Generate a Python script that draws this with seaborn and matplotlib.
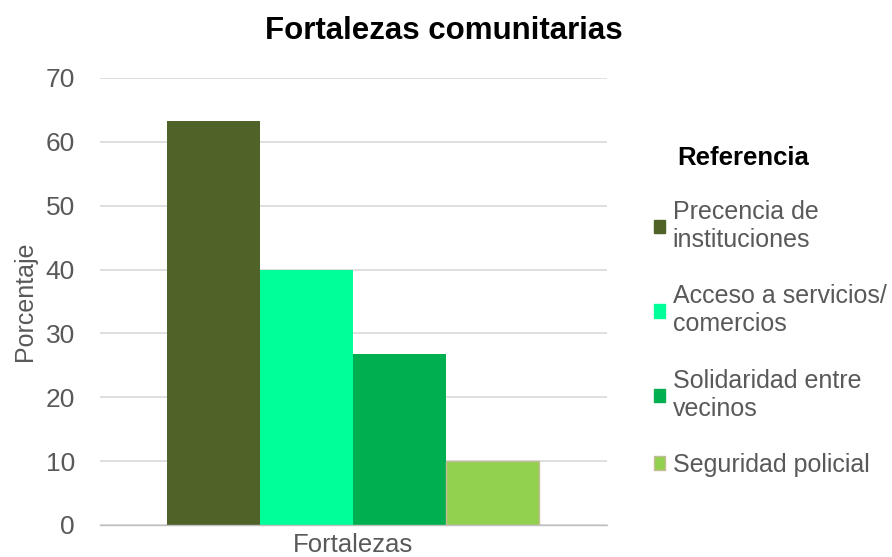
import matplotlib
matplotlib.use("Agg")
import matplotlib.pyplot as plt
import seaborn as sns
import pandas as pd
from matplotlib.patches import Patch

categories = ["Precencia de\ninstituciones", "Acceso a servicios/\ncomercios",
              "Solidaridad entre\nvecinos", "Seguridad policial"]
values = [63.2, 40.0, 26.7, 10.0]
colors = ["#4F6228", "#00FF99", "#00B050", "#92D050"]
group = ["Fortalezas"] * 4
yticks = [0, 10, 20, 30, 40, 50, 60, 70]

df = pd.DataFrame({"grupo": group, "ref": categories, "valor": values})

sns.set_theme(style="white")
plt.rcParams['font.family'] = ['Liberation Sans', 'DejaVu Sans']

fig = plt.figure(figsize=(8.92, 5.57), dpi=100)
ax = fig.add_axes([0.112, 0.0575, 0.568, 0.8025])

sns.barplot(data=df, x="grupo", y="valor", hue="ref", hue_order=categories,
            palette=colors, width=0.734, ax=ax, legend=False, saturation=1)

for i, p in enumerate(ax.patches[:4]):
    p.set_edgecolor("#C4BD97" if i == 3 else "none")
    p.set_linewidth(1.0 if i == 3 else 0)

ax.set_ylim(0, 70)
ax.set_xlim(-0.5, 0.5)
ax.set_yticks(yticks)
ax.yaxis.grid(True, color="#D9D9D9", linewidth=1.2)
ax.set_axisbelow(True)
for s in ["top", "right", "left"]:
    ax.spines[s].set_visible(False)
ax.spines["bottom"].set_color("#BFBFBF")
ax.spines["bottom"].set_linewidth(1.0)
ax.tick_params(axis="y", labelsize=19, colors="#595959", length=0, pad=18)
ax.tick_params(axis="x", labelsize=18.5, colors="#595959", length=0, pad=6)
ax.set_xlabel("")
ax.set_ylabel("Porcentaje", fontsize=18, color="#595959", labelpad=6)

fig.suptitle("Fortalezas comunitarias", fontsize=22.5, fontweight="bold",
             color="black", x=0.497, y=0.972)

handles = [Patch(facecolor=c, edgecolor=("#C4BD97" if i == 3 else c))
           for i, c in enumerate(colors)]
leg = fig.legend(handles, categories, loc="upper left", bbox_to_anchor=(0.708, 0.681),
                 frameon=False, fontsize=18,
                 handlelength=0.45, handleheight=0.45, handletextpad=0.3,
                 labelspacing=1.3)
for t in leg.get_texts():
    t.set_color("#595959")
fig.text(677 / 892, 1 - 158 / 557, "Referencia", fontsize=18.5, fontweight="bold",
         color="black", ha="left", va="center")

fig.savefig("out.png", dpi=100)
